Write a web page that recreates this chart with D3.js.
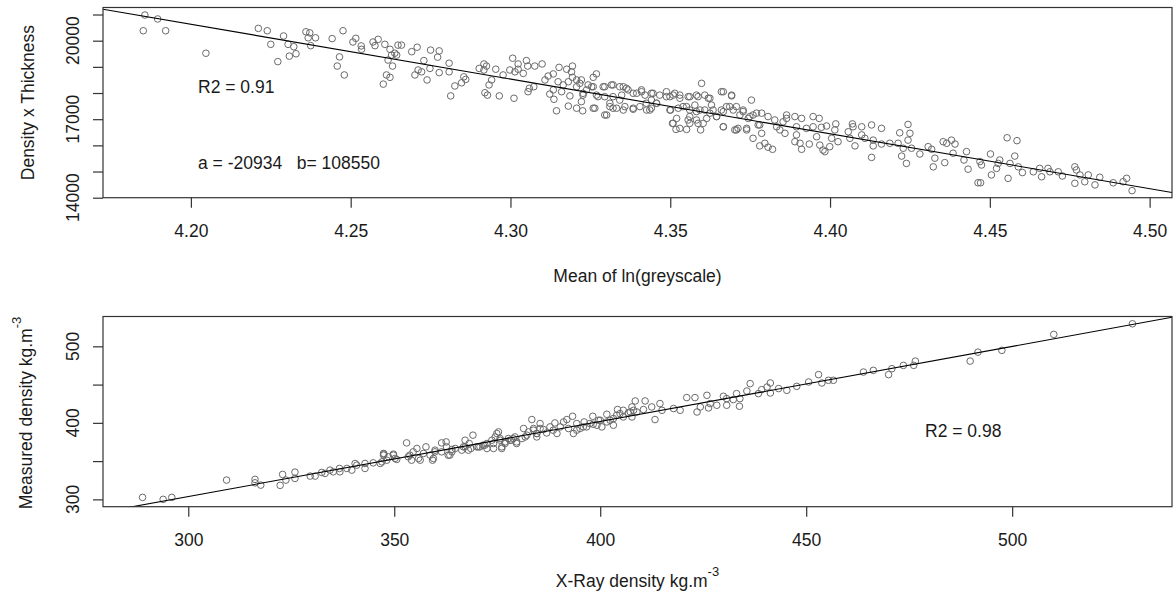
<!DOCTYPE html>
<html>
<head>
<meta charset="utf-8">
<script src="https://d3js.org/d3.v7.min.js"></script>
<style>
    body { margin: 0; background: #fff; }
    text { font-family: "Liberation Sans", Arial, sans-serif; fill: #1a1a1a; }
</style>
</head>
<body>
<div id="chart"></div>
<script>

// ---- data: top panel (calibration) ----
const greyscaleMean = [
    4.1856, 4.1896, 4.1851, 4.1921, 4.2047, 4.2211, 4.2239, 4.2250, 4.2290, 4.2304,
    4.2322, 4.2308, 4.2329, 4.2272, 4.2360, 4.2372, 4.2367, 4.2390, 4.2375, 4.2442,
    4.2476, 4.2465, 4.2458, 4.2480, 4.2516, 4.2507, 4.2533, 4.2534, 4.2570, 4.2586,
    4.2576, 4.2607, 4.2623, 4.2638, 4.2628, 4.2617, 4.2631, 4.2612, 4.2602, 4.2623,
    4.2648, 4.2659, 4.2708, 4.2691, 4.2644, 4.2750, 4.2777, 4.2772, 4.2729, 4.2808,
    4.2711, 4.2722, 4.2701, 4.2748, 4.2777, 4.2808, 4.2739, 4.2854, 4.2860, 4.2847,
    4.2826, 4.2813, 4.2902, 4.2917, 4.2925, 4.2917, 4.2954, 4.2941, 4.2933, 4.2920,
    4.2928, 4.2965, 4.3011, 4.3007, 4.3024, 4.3050, 4.3054, 4.3076, 4.3099, 4.2998,
    4.3014, 4.3024, 4.3040, 4.2977, 4.3059, 4.3055, 4.3073, 4.3108, 4.3118, 4.3134,
    4.3152, 4.3176, 4.3194, 4.3191, 4.3149, 4.3165, 4.3181, 4.3207, 4.3217, 4.3134,
    4.3123, 4.3136, 4.3144, 4.3160, 4.3186, 4.3181, 4.3207, 4.3226, 4.3222, 4.3227,
    4.3238, 4.3194, 4.3207, 4.3269, 4.3259, 4.3222, 4.3243, 4.3227, 4.3254, 4.3274,
    4.3264, 4.3295, 4.3321, 4.3353, 4.3368, 4.3301, 4.3311, 4.3321, 4.3342, 4.3353,
    4.3384, 4.3395, 4.3410, 4.3421, 4.3436, 4.3425, 4.3446, 4.3441, 4.3457, 4.3488,
    4.3499, 4.3514, 4.3530, 4.3501, 4.3520, 4.3507, 4.3518, 4.3551, 4.3561, 4.3582,
    4.3598, 4.3540, 4.3561, 4.3556, 4.3577, 4.3593, 4.3587, 4.3595, 4.3614, 4.3619,
    4.3629, 4.3634, 4.3645, 4.3666, 4.3692, 4.3660, 4.3676, 4.3697, 4.3666, 4.3702,
    4.3712, 4.3739, 4.3754, 4.3728, 4.3718, 4.3744, 4.3759, 4.3786, 4.3780, 4.3759,
    4.3786, 4.3780, 4.3796, 4.3806, 4.3820, 4.3806, 4.3827, 4.3843, 4.3859, 4.3833,
    4.3864, 4.3864, 4.3853, 4.3890, 4.3911, 4.3947, 4.3966, 4.3895, 4.3926, 4.3947,
    4.3973, 4.3989, 4.3895, 4.3890, 4.3906, 4.3911, 4.3935, 4.3968, 4.3978, 4.3984,
    4.3999, 4.4015, 4.4018, 4.4025, 4.4005, 4.3958, 4.4057, 4.4070, 4.4072, 4.4099,
    4.4130, 4.4161, 4.4062, 4.4078, 4.4099, 4.4109, 4.4135, 4.4135, 4.4130, 4.4161,
    4.4187, 4.4213, 4.4218, 4.4244, 4.4250, 4.4244, 4.4224, 4.4239, 4.4229, 4.4255,
    4.4281, 4.4307, 4.4318, 4.4328, 4.4323, 4.4354, 4.4380, 4.4391, 4.4365, 4.4385,
    4.4359, 4.4427, 4.4419, 4.4432, 4.4463, 4.4471, 4.4469, 4.4474, 4.4502, 4.4505,
    4.4526, 4.4531, 4.4521, 4.4554, 4.4585, 4.4578, 4.4563, 4.4557, 4.4589, 4.4602,
    4.4636, 4.4656, 4.4662, 4.4682, 4.4688, 4.4714, 4.4727, 4.4766, 4.4771, 4.4766,
    4.4782, 4.4797, 4.4808, 4.4829, 4.4844, 4.4886, 4.4928, 4.4945, 4.4917,
    4.3259, 4.3290, 4.3316, 4.3342, 4.3363, 4.3269, 4.3295, 4.3321, 4.3348, 4.3384,
    4.3410, 4.3441, 4.3467, 4.3259, 4.3295, 4.3311, 4.3332, 4.3358, 4.3384, 4.3405,
    4.3426, 4.3441, 4.3457, 4.3488, 4.3509, 4.3530, 4.3556, 4.3587, 4.3608, 4.3624,
    4.3660, 4.3692, 4.3499, 4.3525, 4.3551, 4.3561, 4.3582, 4.3608, 4.3624, 4.3645,
    4.3666, 4.3686, 4.3707, 4.3728, 4.3749, 4.3770, 4.3509, 4.3530, 4.3561, 4.3582,
    4.3603, 4.3666, 4.3707, 4.3739, 4.3775
];
const densityThickness = [
    20980, 20830, 20380, 20380, 19520, 20470, 20380, 19860, 20180, 19860,
    19770, 19410, 19500, 19200, 20340, 20300, 20110, 20110, 19810, 20080,
    20380, 19380, 19030, 18690, 20090, 19950, 19800, 19670, 19950, 20050,
    19810, 19860, 19670, 19520, 19450, 19260, 19030, 18690, 18340, 18600,
    19830, 19830, 19750, 19580, 19450, 19640, 19610, 19370, 19240, 19140,
    18880, 18810, 18690, 18940, 18780, 18810, 18500, 18620, 18520, 18390,
    18270, 17890, 18940, 19110, 19030, 18880, 18910, 18500, 18310, 18010,
    17920, 17890, 17800, 19330, 19110, 19240, 19030, 19030, 19110, 18880,
    18810, 18910, 18750, 18690, 18180, 18050, 18240, 18500, 18650, 18730,
    18980, 18910, 19030, 18810, 18430, 18310, 18430, 18500, 18370, 18120,
    17960, 17760, 17320, 18050, 17890, 17500, 17420, 17320, 17670, 17920,
    18120, 18600, 18240, 18730, 18600, 18500, 18310, 17990, 18240, 17860,
    17420, 18240, 18310, 18240, 18120, 17160, 17610, 17420, 17730, 17350,
    17380, 17990, 18120, 17920, 17350, 17610, 17990, 17730, 17610, 18050,
    17860, 17990, 17920, 17350, 17030, 16840, 16610, 16610, 17860, 17920,
    18370, 17480, 17350, 16970, 17540, 17350, 16840, 16590, 17030, 17800,
    17540, 17350, 17100, 18050, 17890, 17350, 17480, 17350, 16710, 16590,
    16650, 16590, 17730, 17350, 17160, 17030, 17160, 17230, 16780, 16270,
    16460, 15980, 16080, 15930, 15850, 17100, 16970, 16590, 16460, 16710,
    17160, 17030, 16900, 17100, 17030, 17100, 17030, 16710, 16650, 16710,
    16690, 16740, 16400, 16140, 16080, 15850, 16050, 16010, 15820, 15760,
    15950, 16590, 16820, 16140, 16270, 16330, 16520, 16820, 16710, 16710,
    16780, 16650, 16270, 15980, 16400, 16270, 16200, 15980, 15540, 16050,
    16080, 16080, 16480, 16800, 16460, 16200, 15590, 15310, 15890, 15890,
    15670, 15950, 15850, 15510, 15180, 16140, 16200, 16050, 16080, 15700,
    15340, 15760, 15440, 15090, 14570, 14570, 15380, 15250, 15670, 14870,
    15310, 15440, 15120, 16290, 16180, 15590, 15310, 14740, 15180, 14960,
    14990, 15120, 14800, 15120, 14990, 14990, 14830, 15180, 15060, 14550,
    14870, 14610, 14870, 14490, 14780, 14570, 14740, 14270, 14610,
    18240, 18240, 18310, 18240, 18180, 17920, 17860, 17860, 17920, 17990,
    18050, 17990, 17920, 17420, 17160, 17480, 17420, 17480, 17420, 17480,
    17350, 17420, 17610, 17860, 17920, 17800, 17860, 17860, 17920, 17800,
    18050, 17920, 17350, 17420, 17480, 17100, 17290, 17350, 17230, 17100,
    17290, 17480, 17480, 17290, 17100, 17230, 16840, 16650, 16840, 16970,
    16840, 16710, 16590, 16650, 16780
];
const fitTop = {a: -20934, b: 108550, r2: 0.91};

// ---- data: bottom panel (validation) ----
const xrayDensity = [
    288.9, 293.9, 296.0, 309.3, 316.2, 316.2, 317.6, 322.3, 322.9, 323.7,
    325.9, 325.9, 329.6, 330.8, 332.4, 333.2, 334.4, 335.2, 336.7, 336.8,
    338.5, 339.7, 340.5, 340.9, 342.9, 342.9, 344.9, 346.6, 347.4, 348.2,
    349.8, 350.6, 347.5, 349.8, 347.0, 353.0, 353.8, 354.6, 355.5, 355.9,
    357.1, 357.7, 358.7, 359.3, 359.9, 361.5, 362.6, 362.7, 363.5, 364.0,
    366.4, 366.8, 367.2, 368.2, 369.1, 368.6, 370.4, 371.6, 372.5, 373.7,
    374.1, 374.9, 375.3, 374.5, 375.7, 376.1, 376.9, 377.7, 378.5, 379.3,
    379.7, 381.4, 381.8, 382.6, 383.4, 383.8, 384.6, 385.4, 386.2, 387.0,
    387.8, 389.0, 389.5, 390.3, 391.1, 391.9, 392.3, 393.3, 393.5, 394.3,
    395.1, 396.1, 396.7, 398.2, 398.3, 399.6, 400.4, 401.6, 402.4, 403.2,
    404.2, 404.8, 405.6, 406.8, 408.5, 408.9, 407.7, 408.1, 407.7, 410.9,
    410.5, 412.5, 413.3, 414.5, 415.0, 417.8, 419.4, 421.0, 423.0, 423.5,
    424.3, 425.9, 426.7, 426.3, 428.3, 429.9, 430.7, 430.7, 432.3, 433.8,
    433.9, 433.1, 435.6, 436.4, 438.4, 439.2, 440.5, 441.3, 441.3, 443.3,
    445.3, 447.7, 450.6, 453.0, 453.8, 455.4, 456.6, 463.9, 466.3, 470.0,
    470.8, 473.6, 476.1, 476.5, 489.8, 491.7, 497.5, 510.1, 529.2,
    347.4, 348.6, 350.2, 353.4, 354.2, 356.3, 359.5, 359.9, 361.5, 363.1,
    364.0, 364.8, 367.2, 368.0, 370.0, 370.8, 372.0, 372.5, 374.1, 375.7,
    376.1, 376.9, 378.1, 378.9, 379.7, 381.0, 382.2, 383.8, 384.6, 385.4,
    384.6, 388.6, 394.3, 395.9, 397.5, 399.2, 400.0, 401.6, 403.2, 404.0,
    405.6, 407.3
];
const measuredDensity = [
    302.6, 300.0, 302.6, 325.2, 326.1, 321.6, 318.6, 318.3, 332.6, 325.2,
    335.6, 327.4, 330.4, 330.4, 335.2, 333.9, 338.2, 336.0, 340.4, 336.0,
    340.4, 338.2, 346.9, 344.7, 340.4, 346.9, 347.7, 346.9, 357.8, 351.2,
    357.8, 352.2, 359.1, 359.1, 349.0, 373.8, 357.8, 362.1, 366.5, 353.5,
    360.0, 368.6, 357.8, 351.2, 364.3, 373.8, 375.1, 368.6, 357.8, 365.2,
    364.3, 368.6, 377.3, 373.0, 383.9, 366.5, 368.6, 370.8, 373.0, 377.3,
    366.5, 386.1, 388.2, 381.6, 379.5, 368.6, 375.1, 379.5, 377.3, 381.6,
    375.1, 392.6, 381.6, 388.2, 404.3, 392.6, 386.1, 399.1, 391.3, 386.8,
    394.7, 399.9, 386.1, 394.7, 401.2, 404.3, 392.6, 408.6, 386.1, 399.1,
    392.6, 401.2, 394.7, 408.6, 398.2, 403.4, 394.7, 411.2, 403.4, 396.9,
    417.4, 412.1, 416.4, 412.9, 428.6, 414.2, 420.8, 416.4, 407.7, 428.6,
    417.4, 420.8, 404.3, 425.2, 416.4, 418.7, 416.4, 433.0, 433.0, 414.2,
    420.8, 436.0, 425.2, 419.5, 423.0, 434.7, 431.7, 423.0, 430.4, 421.7,
    431.7, 438.2, 441.6, 451.3, 438.2, 443.4, 446.8, 452.1, 439.0, 444.8,
    442.5, 447.7, 453.4, 463.0, 452.1, 455.6, 455.6, 466.4, 468.6, 463.0,
    470.8, 475.1, 475.1, 480.7, 480.7, 492.4, 494.7, 515.6, 529.5,
    360.0, 355.6, 353.5, 355.6, 351.2, 351.2, 353.5, 362.1, 362.1, 357.8,
    362.1, 366.5, 368.6, 364.3, 368.6, 368.6, 370.8, 366.5, 373.0, 377.3,
    366.5, 373.0, 377.3, 379.5, 373.0, 379.5, 383.9, 390.4, 386.1, 392.6,
    381.6, 390.4, 390.4, 394.7, 399.1, 396.9, 403.4, 401.2, 405.6, 409.9,
    407.7, 414.2
];
const fitBottom = {a: 0.981, b: 9.4, r2: 0.98};

// ---- ticks ----
const topXTicks = [4.20, 4.25, 4.30, 4.35, 4.40, 4.45, 4.50];
const topYTicks = [14000, 15000, 16000, 17000, 18000, 19000, 20000, 21000];
const topYLabels = [14000, 17000, 20000];
const bottomXTicks = [300, 350, 400, 450, 500];
const bottomYTicks = [300, 350, 400, 450, 500];
const bottomYLabels = [300, 400, 500];


class ScatterPanel {

    constructor(svg, cfg) {
        this.svg = svg;
        this.cfg = cfg;
        this.initVis();
    }

    initVis() {
        let vis = this;
        let c = vis.cfg;

        vis.g = vis.svg.append("g").attr("class", "panel-" + c.id);

        // scales
        vis.x = d3.scaleLinear().domain(c.xDomain).range([c.left, c.right]);
        vis.y = d3.scaleLinear().domain(c.yDomain).range([c.bottom, c.top]);

        // clip region = plot box
        vis.svg.append("defs").append("clipPath")
            .attr("id", "clip-" + c.id)
            .append("rect")
            .attr("x", c.left).attr("y", c.top)
            .attr("width", c.right - c.left)
            .attr("height", c.bottom - c.top);

        // points
        vis.g.append("g").attr("class", "points")
            .selectAll("circle")
            .data(d3.range(c.xData.length))
            .enter().append("circle")
            .attr("cx", i => vis.x(c.xData[i]))
            .attr("cy", i => vis.y(c.yData[i]))
            .attr("r", 3.3)
            .attr("fill", "none")
            .attr("stroke", "#6a6a6a")
            .attr("stroke-width", 1);

        // fitted line  y = a*x + b
        let line = d3.line()
            .x(d => vis.x(d))
            .y(d => vis.y(c.fit.a * d + c.fit.b));

        vis.g.append("path")
            .datum(c.xDomain)
            .attr("d", line)
            .attr("fill", "none")
            .attr("stroke", "#000")
            .attr("stroke-width", 1.1)
            .attr("clip-path", "url(#clip-" + c.id + ")");

        // box
        vis.g.append("rect")
            .attr("x", c.left).attr("y", c.top)
            .attr("width", c.right - c.left)
            .attr("height", c.bottom - c.top)
            .attr("fill", "none")
            .attr("stroke", "#333")
            .attr("stroke-width", 1.2);

        // x axis
        let xAxis = vis.g.append("g")
            .attr("class", "x-axis")
            .attr("transform", "translate(0," + c.bottom + ")")
            .call(d3.axisBottom(vis.x)
                .tickValues(c.xTicks)
                .tickSize(10)
                .tickPadding(17)
                .tickFormat(c.xFormat));
        xAxis.select(".domain").remove();
        xAxis.selectAll("line").attr("stroke", "#333").attr("stroke-width", 1.2);
        xAxis.selectAll("text")
            .attr("font-family", null)
            .style("font-size", "17.5px");

        // y axis, labels rotated like base R
        let yAxis = vis.g.append("g")
            .attr("class", "y-axis")
            .attr("transform", "translate(" + c.left + ",0)")
            .call(d3.axisLeft(vis.y)
                .tickValues(c.yTicks)
                .tickSize(10)
                .tickFormat(""));
        yAxis.select(".domain").remove();
        yAxis.selectAll("line").attr("stroke", "#333").attr("stroke-width", 1.2);

        vis.g.append("g").attr("class", "y-labels")
            .selectAll("text")
            .data(c.yLabels)
            .enter().append("text")
            .attr("transform", d => "translate(" + (c.left - 24) + "," + vis.y(d) + ") rotate(-90)")
            .attr("text-anchor", "middle")
            .style("font-size", "17.5px")
            .text(d => d);

        // axis titles
        let xt = vis.g.append("text")
            .attr("x", (c.left + c.right) / 2)
            .attr("y", c.bottom + c.xTitleOffset)
            .attr("text-anchor", "middle")
            .style("font-size", "17.5px")
            .text(c.xTitle);
        if (c.xTitleSup) {
            xt.append("tspan").attr("dy", -11).style("font-size", "13px").text(c.xTitleSup);
        }

        let yt = vis.g.append("text")
            .attr("transform", "translate(" + c.yTitleX + "," + c.yTitleY + ") rotate(-90)")
            .attr("text-anchor", "middle")
            .style("font-size", "17.5px")
            .text(c.yTitle);
        if (c.yTitleSup) {
            yt.append("tspan").attr("dy", -11).style("font-size", "13px").text(c.yTitleSup);
        }

        // notes inside the plot
        vis.g.append("g").attr("class", "notes")
            .selectAll("text")
            .data(c.notes)
            .enter().append("text")
            .attr("x", d => d.x)
            .attr("y", d => d.y)
            .style("font-size", "17.5px")
            .style("white-space", "pre")
            .attr("xml:space", "preserve")
            .text(d => d.text);
    }
}


let svg = d3.select("#chart").append("svg")
    .attr("width", 1173)
    .attr("height", 597);

new ScatterPanel(svg, {
    id: "top",
    left: 103, right: 1172, top: 7.5, bottom: 197.7,
    xDomain: [4.1725, 4.507],
    yDomain: [14000, 21268],
    xData: greyscaleMean,
    yData: densityThickness,
    fit: fitTop,
    xTicks: topXTicks,
    xFormat: d3.format(".2f"),
    yTicks: topYTicks,
    yLabels: topYLabels,
    xTitle: "Mean of ln(greyscale)",
    xTitleOffset: 84.6,
    yTitle: "Density x Thickness",
    yTitleX: 33.5, yTitleY: 102.6,
    notes: [
        {x: 198, y: 93.3, text: "R2 = " + fitTop.r2.toFixed(2)},
        {x: 198, y: 169, text: "a = " + fitTop.a + "   b= " + fitTop.b}
    ]
});

new ScatterPanel(svg, {
    id: "bottom",
    left: 103, right: 1172, top: 316.5, bottom: 506.7,
    xDomain: [279.3, 538.8],
    yDomain: [290.4, 539.0],
    xData: xrayDensity,
    yData: measuredDensity,
    fit: fitBottom,
    xTicks: bottomXTicks,
    xFormat: d3.format("d"),
    yTicks: bottomYTicks,
    yLabels: bottomYLabels,
    xTitle: "X-Ray density kg.m",
    xTitleSup: "-3",
    xTitleOffset: 80.6,
    yTitle: "Measured density kg.m",
    yTitleSup: "-3",
    yTitleX: 32, yTitleY: 413,
    notes: [
        {x: 925, y: 437.3, text: "R2 = " + fitBottom.r2.toFixed(2)}
    ]
});

</script>
</body>
</html>
